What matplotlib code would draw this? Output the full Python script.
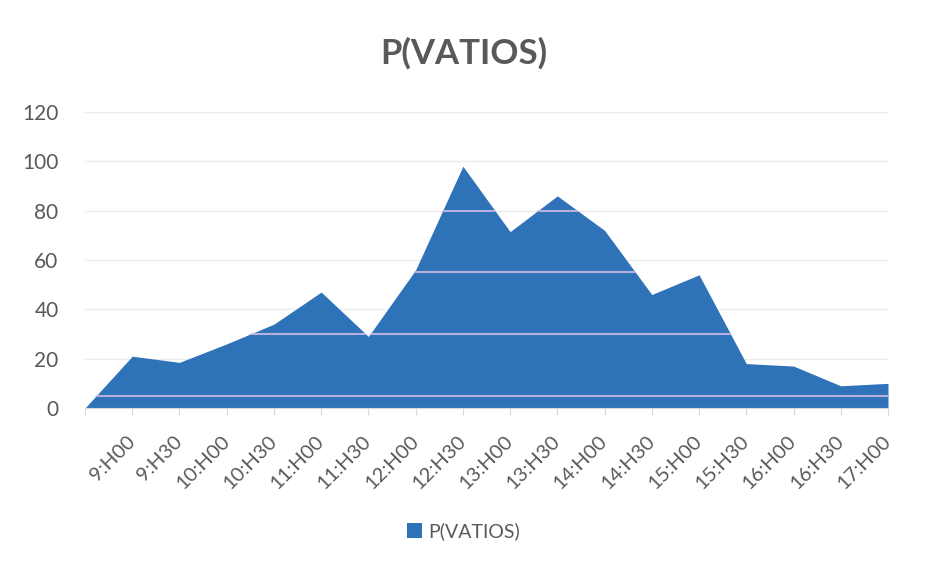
import matplotlib
matplotlib.use("Agg")
import matplotlib.pyplot as plt
from matplotlib.patches import Patch
import numpy as np

# ---- data ----
categories = ["", "9:H00", "9:H30", "10:H00", "10:H30", "11:H00", "11:H30", "12:H00",
              "12:H30", "13:H00", "13:H30", "14:H00", "14:H30", "15:H00", "15:H30",
              "16:H00", "16:H30", "17:H00"]
values = [0, 21, 18.5, 26, 34, 47, 29, 56, 98, 71.5, 86, 72, 46, 54, 18, 17, 9, 10]
y_ticks = [0, 20, 40, 60, 80, 100, 120]
series_name = "P(VATIOS)"
title = "P(VATIOS)"
band_levels = [5, 30, 55, 80]  # light streaks visible across the filled area

FONT = ["Lato", "DejaVu Sans"]
TXT = "#595959"
BLUE = "#2E72B8"

plt.rcParams["font.family"] = FONT

fig = plt.figure(figsize=(9.27, 5.62), dpi=100)
fig.patch.set_facecolor("white")
ax = fig.add_axes([85 / 927, 1 - 408 / 562, (888 - 85) / 927, (408 - 112) / 562])

x = np.arange(len(categories))
ax.set_xlim(0, len(categories) - 1)
ax.set_ylim(0, 120)

for yv in y_ticks[1:]:
    ax.axhline(yv, color="#ececec", lw=1.0, zorder=0)

poly = ax.fill_between(x, 0, values, color=BLUE, lw=0, zorder=2)

for lv in band_levels:
    ln = ax.axhline(lv, color="#b9b0e0", lw=1.5, zorder=3)
    ln.set_clip_path(poly.get_paths()[0], ax.transData)

ax.set_yticks(y_ticks)
ax.set_yticklabels([str(v) for v in y_ticks], fontsize=15, color=TXT)
ax.tick_params(axis="y", length=0, pad=19)

ax.set_xticks(x)
ax.set_xticklabels(categories, fontsize=14.5, color=TXT, rotation=45,
                   ha="right", va="center", rotation_mode="anchor")
ax.tick_params(axis="x", length=5, color="#d9d9d9", pad=17)

for side in ["top", "right", "left"]:
    ax.spines[side].set_visible(False)
ax.spines["bottom"].set_color("#d9d9d9")
ax.spines["bottom"].set_zorder(4)

fig.text(0.5, 1 - 53 / 562, title, ha="center", va="center", fontsize=25,
         fontweight="bold", color=TXT)

leg = fig.legend(handles=[Patch(facecolor=BLUE, edgecolor="none", label=series_name)],
                 loc="center", bbox_to_anchor=(0.5, 1 - 531 / 562), frameon=False,
                 fontsize=14, handlelength=0.8, handleheight=0.8, handletextpad=0.3)
for t in leg.get_texts():
    t.set_color(TXT)

fig.savefig("out.png", dpi=100, facecolor="white")
